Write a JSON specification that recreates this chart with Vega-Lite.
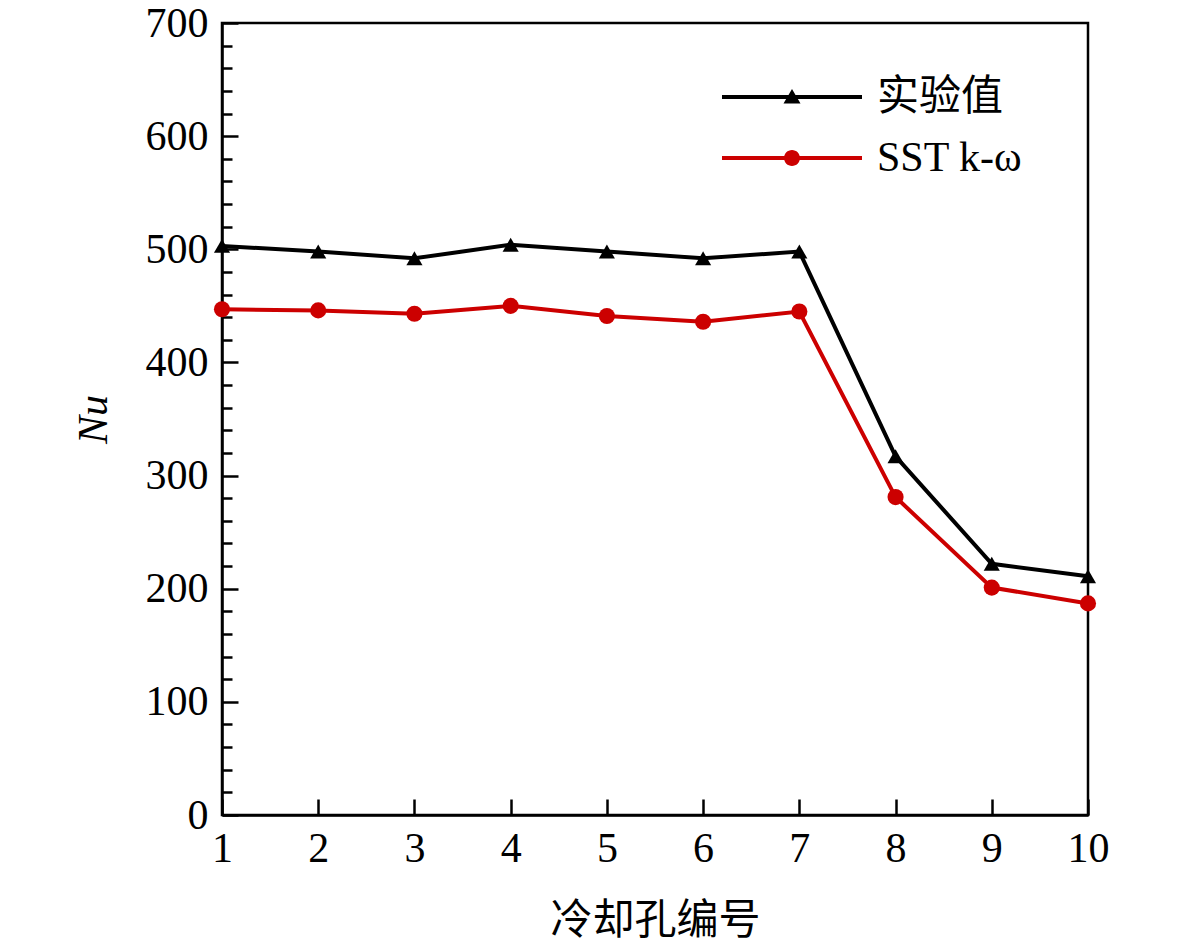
{
  "$schema": "https://vega.github.io/schema/vega-lite/v6.json",
  "width": 866,
  "height": 792,
  "autosize": {"type": "none"},
  "padding": {"left": 222, "top": 23, "right": 93, "bottom": 132},
  "background": "#ffffff",
  "config": {
    "view": {"stroke": "#000000", "strokeWidth": 2.5},
    "font": "Liberation Serif",
    "axis": {
      "domainColor": "#000000", "domainWidth": 2.5,
      "tickColor": "#000000", "tickWidth": 2.5,
      "labelColor": "#000000", "labelFontSize": 42, "labelFont": "Liberation Serif",
      "titleColor": "#000000", "titleFontSize": 42, "titleFontWeight": "normal",
      "titleFont": "Liberation Serif, Noto Sans CJK SC",
      "grid": false
    },
    "legend": {
      "labelFont": "Liberation Serif, Noto Sans CJK SC", "labelFontSize": 42, "labelColor": "#000000",
      "padding": 0
    }
  },
  "data": {
    "values": [
      {"series": "实验值", "hole": 1, "nu": 503},
      {"series": "实验值", "hole": 2, "nu": 498},
      {"series": "实验值", "hole": 3, "nu": 492},
      {"series": "实验值", "hole": 4, "nu": 504},
      {"series": "实验值", "hole": 5, "nu": 498},
      {"series": "实验值", "hole": 6, "nu": 492},
      {"series": "实验值", "hole": 7, "nu": 498},
      {"series": "实验值", "hole": 8, "nu": 317},
      {"series": "实验值", "hole": 9, "nu": 222},
      {"series": "实验值", "hole": 10, "nu": 211},
      {"series": "SST k-ω", "hole": 1, "nu": 447},
      {"series": "SST k-ω", "hole": 2, "nu": 446},
      {"series": "SST k-ω", "hole": 3, "nu": 443},
      {"series": "SST k-ω", "hole": 4, "nu": 450},
      {"series": "SST k-ω", "hole": 5, "nu": 441},
      {"series": "SST k-ω", "hole": 6, "nu": 436},
      {"series": "SST k-ω", "hole": 7, "nu": 445},
      {"series": "SST k-ω", "hole": 8, "nu": 281},
      {"series": "SST k-ω", "hole": 9, "nu": 201},
      {"series": "SST k-ω", "hole": 10, "nu": 187}
    ]
  },
  "encoding": {
    "x": {
      "field": "hole", "type": "quantitative",
      "scale": {"domain": [1, 10], "nice": false},
      "axis": {
        "title": "冷却孔编号",
        "values": [1, 2, 3, 4, 5, 6, 7, 8, 9, 10],
        "tickSize": -16, "labelPadding": 29, "titlePadding": 31,
        "labelFlush": false, "labelOverlap": false
      }
    },
    "y": {
      "field": "nu", "type": "quantitative",
      "scale": {"domain": [0, 700], "nice": false},
      "axis": {
        "title": "Nu", "titleFontStyle": "italic",
        "values": [0, 20, 40, 60, 80, 100, 120, 140, 160, 180, 200, 220, 240, 260, 280, 300, 320, 340, 360, 380, 400, 420, 440, 460, 480, 500, 520, 540, 560, 580, 600, 620, 640, 660, 680, 700],
        "labelExpr": "datum.value % 100 === 0 ? datum.label : ''",
        "tickSize": {"condition": {"test": "datum.value % 100 === 0", "value": -16}, "value": -10},
        "labelPadding": 30, "titlePadding": 30,
        "labelOverlap": false, "labelFlush": false
      }
    },
    "color": {
      "field": "series", "type": "nominal",
      "scale": {"domain": ["实验值", "SST k-ω"], "range": ["#000000", "#cc0000"]},
      "legend": {
        "title": null,
        "orient": "none", "legendX": 549, "legendY": 53,
        "symbolSize": 400, "symbolStrokeWidth": 0,
        "labelOffset": 64, "rowPadding": 19,
        "encode": {
          "symbols": {
            "update": {
              "shape": {"signal": "datum.value === '实验值' ? 'M-7,-0.2H7V0.2H-7Z M0,-0.8L0.85,0.65L-0.85,0.65Z' : 'M-7,-0.2H7V0.2H-7Z M-0.8,0A0.8,0.8 0 1,1 0.8,0A0.8,0.8 0 1,1 -0.8,0Z'"},
              "opacity": {"value": 1}
            }
          }
        }
      }
    }
  },
  "layer": [
    {"mark": {"type": "line", "strokeWidth": 4}},
    {
      "mark": {"type": "point", "filled": true, "size": 260, "opacity": 1},
      "encoding": {
        "shape": {
          "condition": {"test": "datum.series === '实验值'", "value": "triangle-up"},
          "value": "circle"
        }
      }
    }
  ]
}
